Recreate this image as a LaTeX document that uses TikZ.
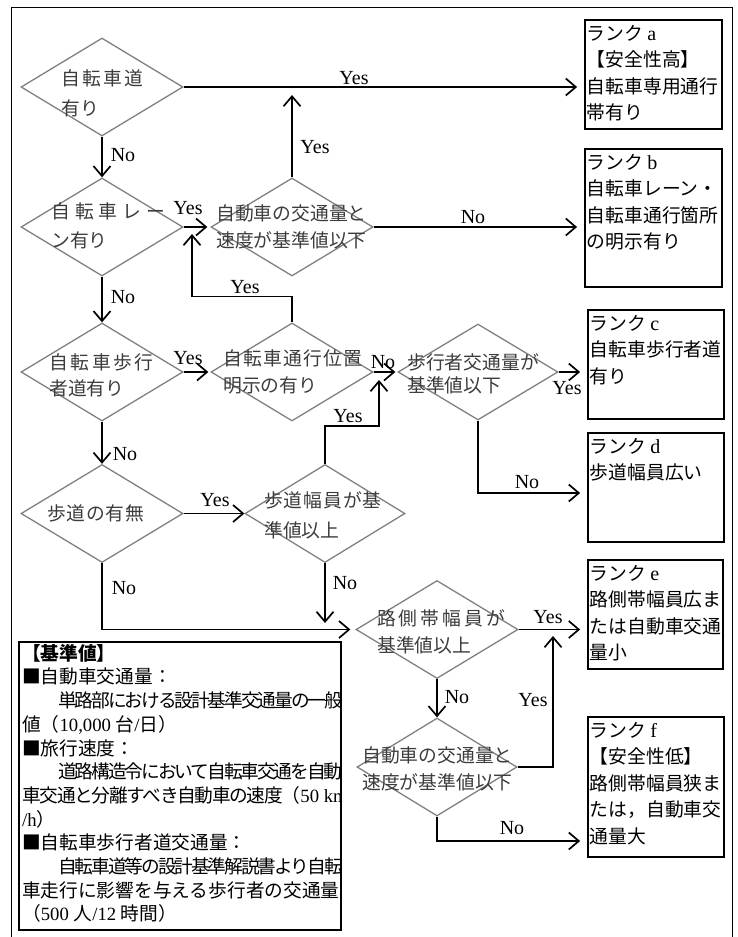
\documentclass[tikz,border=0pt]{standalone}
\usepackage{fontspec}
\setmainfont{Noto Sans CJK JP}
\newfontfamily\lt{Liberation Serif}
\usetikzlibrary{arrows.meta,shapes.geometric,calc}
\definecolor{dgray}{RGB}{128,128,128}
\definecolor{dtext}{RGB}{60,60,60}
\newcommand{\rl}[1]{{\lt\fontsize{20}{20}\selectfont #1}}
\begin{document}
\begin{tikzpicture}[x=1pt,y=-1pt,
  dia/.style={draw=dgray, line width=1.3pt, diamond, inner sep=0pt, minimum width=162pt, minimum height=98pt},
  dtxt/.style={anchor=west, inner sep=0pt, align=left, text=dtext, font=\fontsize{18.8}{#1}\selectfont},
  dtxt/.default=27,
  conn/.style={line width=1.7pt, -{Straight Barb[length=10pt,width=17pt]}},
  lbl/.style={inner sep=0pt, font=\lt\fontsize{20}{20}\selectfont},
  rankbox/.style={draw, line width=1.8pt, minimum width=137pt, inner sep=0pt},
  rtxt/.style={anchor=north west, align=left, inner xsep=2.5pt, inner ysep=6pt, font=\fontsize{18.8}{26.5}\selectfont},
  leg/.style={anchor=north west, align=left, inner xsep=2pt, inner ysep=2pt, font=\fontsize{18.7}{23.7}\selectfont}
]
\useasboundingbox (0,0) rectangle (738,937);
% outer frame (open at the bottom)
\draw[line width=1.8pt] (11.5,937) -- (11.5,7.5) -- (732.5,7.5) -- (732.5,937);

% decision diamonds
\node[dia] (D1) at (102,87) {};
\node[dia] (D2) at (102,227) {};
\node[dia] (D3) at (102,372) {};
\node[dia] (D4) at (102,513.5) {};
\node[dia] (D5) at (292,227) {};
\node[dia] (D6) at (292,372) {};
\node[dia, minimum width=160pt, minimum height=96pt] (D7) at (478,372) {};
\node[dia, minimum width=160pt] (D8) at (325,513.5) {};
\node[dia] (D9) at (437,629.5) {};
\node[dia, minimum width=160pt] (D10) at (437,767) {};

% diamond texts
\node[dtxt=30] (T1) at (61,93) {{\addfontfeature{LetterSpace=13}自転車道}\\有り};
\node[dtxt=29] (T2) at (51,225.5) {{\addfontfeature{LetterSpace=27}自転車レー}\\ン有り};
\node[dtxt=26] (T3) at (49,375) {{\addfontfeature{LetterSpace=14}自転車歩行}\\者道有り};
\node[dtxt] (T4) at (47,513) {{\addfontfeature{LetterSpace=4}歩道の有無}};
\node[dtxt=27] (T5) at (216,226.5) {自動車の交通量と\\速度が基準値以下};
\node[dtxt=27] (T6) at (223,371.5) {{\addfontfeature{LetterSpace=7}自転車通行位置}\\明示の有り};
\node[dtxt=23] (T7) at (407,373.5) {歩行者交通量が\\基準値以下};
\node[dtxt=30] (T8) at (264,515) {{\addfontfeature{LetterSpace=5}歩道幅員が基}\\準値以上};
\node[dtxt=27] (T9) at (377,631.5) {{\addfontfeature{LetterSpace=16}路側帯幅員が}\\基準値以上};
\node[dtxt=27] (T10) at (362,768.5) {自動車の交通量と\\速度が基準値以下};

% rank boxes
\node[rankbox, minimum height=109pt] (rankA) at (653.5,74.5) {};
\node[rankbox, minimum height=138pt] (rankB) at (653.5,218) {};
\node[rankbox, minimum height=109pt, minimum width=136pt] (rankC) at (656,364.5) {};
\node[rankbox, minimum height=109pt, minimum width=136pt] (rankD) at (656,487.5) {};
\node[rankbox, minimum height=109pt, minimum width=135pt] (rankE) at (655.5,614.5) {};
\node[rankbox, minimum height=140pt, minimum width=136pt] (rankF) at (656,787) {};

\node[rtxt] (RA) at (rankA.north west) {ランク \rl{a}\\【安全性高】\\自転車専用通行\\帯有り};
\node[rtxt] (RB) at (rankB.north west) {ランク \rl{b}\\自転車レーン・\\自転車通行箇所\\の明示有り};
\node[rtxt] (RC) at (rankC.north west) {ランク \rl{c}\\自転車歩行者道\\有り};
\node[rtxt] (RD) at (rankD.north west) {ランク \rl{d}\\歩道幅員広い};
\node[rtxt] (RE) at (rankE.north west) {ランク \rl{e}\\路側帯幅員広ま\\たは自動車交通\\量小};
\node[rtxt] (RF) at (rankF.north west) {ランク \rl{f}\\【安全性低】\\路側帯幅員狭ま\\たは，自動車交\\通量大};

% legend
\begin{scope}
\clip (19,642) rectangle (341,930);
\node[leg] (LT) at (20,642) {{\bfseries 【基準値】}\\
■自動車交通量：\\
\hspace*{36pt}{\addfontfeature{LetterSpace=-11}単路部における設計基準交通量の一般}\\
値（{\lt 10,000 }台{\lt /}日）\\
■旅行速度：\\
\hspace*{36pt}{\addfontfeature{LetterSpace=-11}道路構造令において自転車交通を自動}\\
{\addfontfeature{LetterSpace=-7}車交通と分離すべき自動車の速度（}{\lt 50 km}\\
{\lt /h}）\\
■自転車歩行者道交通量：\\
\hspace*{36pt}{\addfontfeature{LetterSpace=-11}自転車道等の設計基準解説書より自転}\\
車走行に影響を与える歩行者の交通量\\
（{\lt 500 }人{\lt /12 }時間）};
\end{scope}
\node[draw, line width=1.8pt, minimum width=322pt, minimum height=288pt, inner sep=0pt] (legend) at (180,786) {};

% helper coordinates
\coordinate (tip2) at (292,95);
\coordinate (tip5) at (192,234);
\coordinate (tip10) at (379,380);
\coordinate (lev12) at (0,493);
\coordinate (tip16) at (325,623);
\coordinate (tip19) at (553,636);
\coordinate (lev20) at (0,841);

% connectors
\draw[conn, shorten >=7pt] (D1.east) -- (D1.east -| rankA.west);
\node[lbl] (L1) at (354,78) {Yes};
\draw[conn] (D5.north) -- (tip2);
\node[lbl] (L2) at (315,147) {Yes};
\draw[conn] (D1.south) -- (D2.north);
\node[lbl] (L3) at (123,155) {No};
\draw[conn, shorten >=3pt] (D2.east) -- (D5.west);
\node[lbl] (L4) at (188,208) {Yes};
\draw[conn] (D6.north) -- ++(0,-26) -| (tip5);
\node[lbl] (L5) at (245,287) {Yes};
\draw[conn, shorten >=7pt] (D5.east) -- (D5.east -| rankB.west);
\node[lbl] (L6) at (473,217) {No};
\draw[conn] (D2.south) -- (D3.north);
\node[lbl] (L7) at (123,297) {No};
\draw[conn, shorten >=2pt] (D3.east) -- (D6.west);
\node[lbl] (L8) at (188,358) {Yes};
\draw[conn, shorten >=2pt] (D6.east) -- (D7.west);
\node[lbl] (L9) at (383,362) {No};
\draw[conn] (D8.north) -- ++(0,-38) -| (tip10);
\node[lbl] (L10) at (348,416) {Yes};
\draw[conn, shorten >=7pt] (D7.east) -- (D7.east -| rankC.west);
\node[lbl] (L11) at (567,388) {Yes};
\draw[conn, shorten >=7pt] (D7.south) |- (rankD.west |- lev12);
\node[lbl] (L12) at (527,482) {No};
\draw[conn] (D3.south) -- (D4.north);
\node[lbl] (L13) at (125,454) {No};
\draw[conn] (D4.east) -- (D8.west);
\node[lbl] (L14) at (215,500) {Yes};
\draw[conn, shorten >=5pt] (D4.south) |- (D9.west);
\node[lbl] (L15) at (124,588) {No};
\draw[conn] (D8.south) -- (tip16);
\node[lbl] (L16) at (345,583) {No};
\draw[conn, shorten >=7pt] (D9.east) -- (D9.east -| rankE.west);
\node[lbl] (L17) at (548,617) {Yes};
\draw[conn] (D9.south) -- (D10.north);
\node[lbl] (L18) at (457,697) {No};
\draw[conn] (D10.east) -| (tip19);
\node[lbl] (L19) at (533,700) {Yes};
\draw[conn, shorten >=7pt] (D10.south) |- (rankF.west |- lev20);
\node[lbl] (L20) at (512,828) {No};
\end{tikzpicture}
\end{document}
